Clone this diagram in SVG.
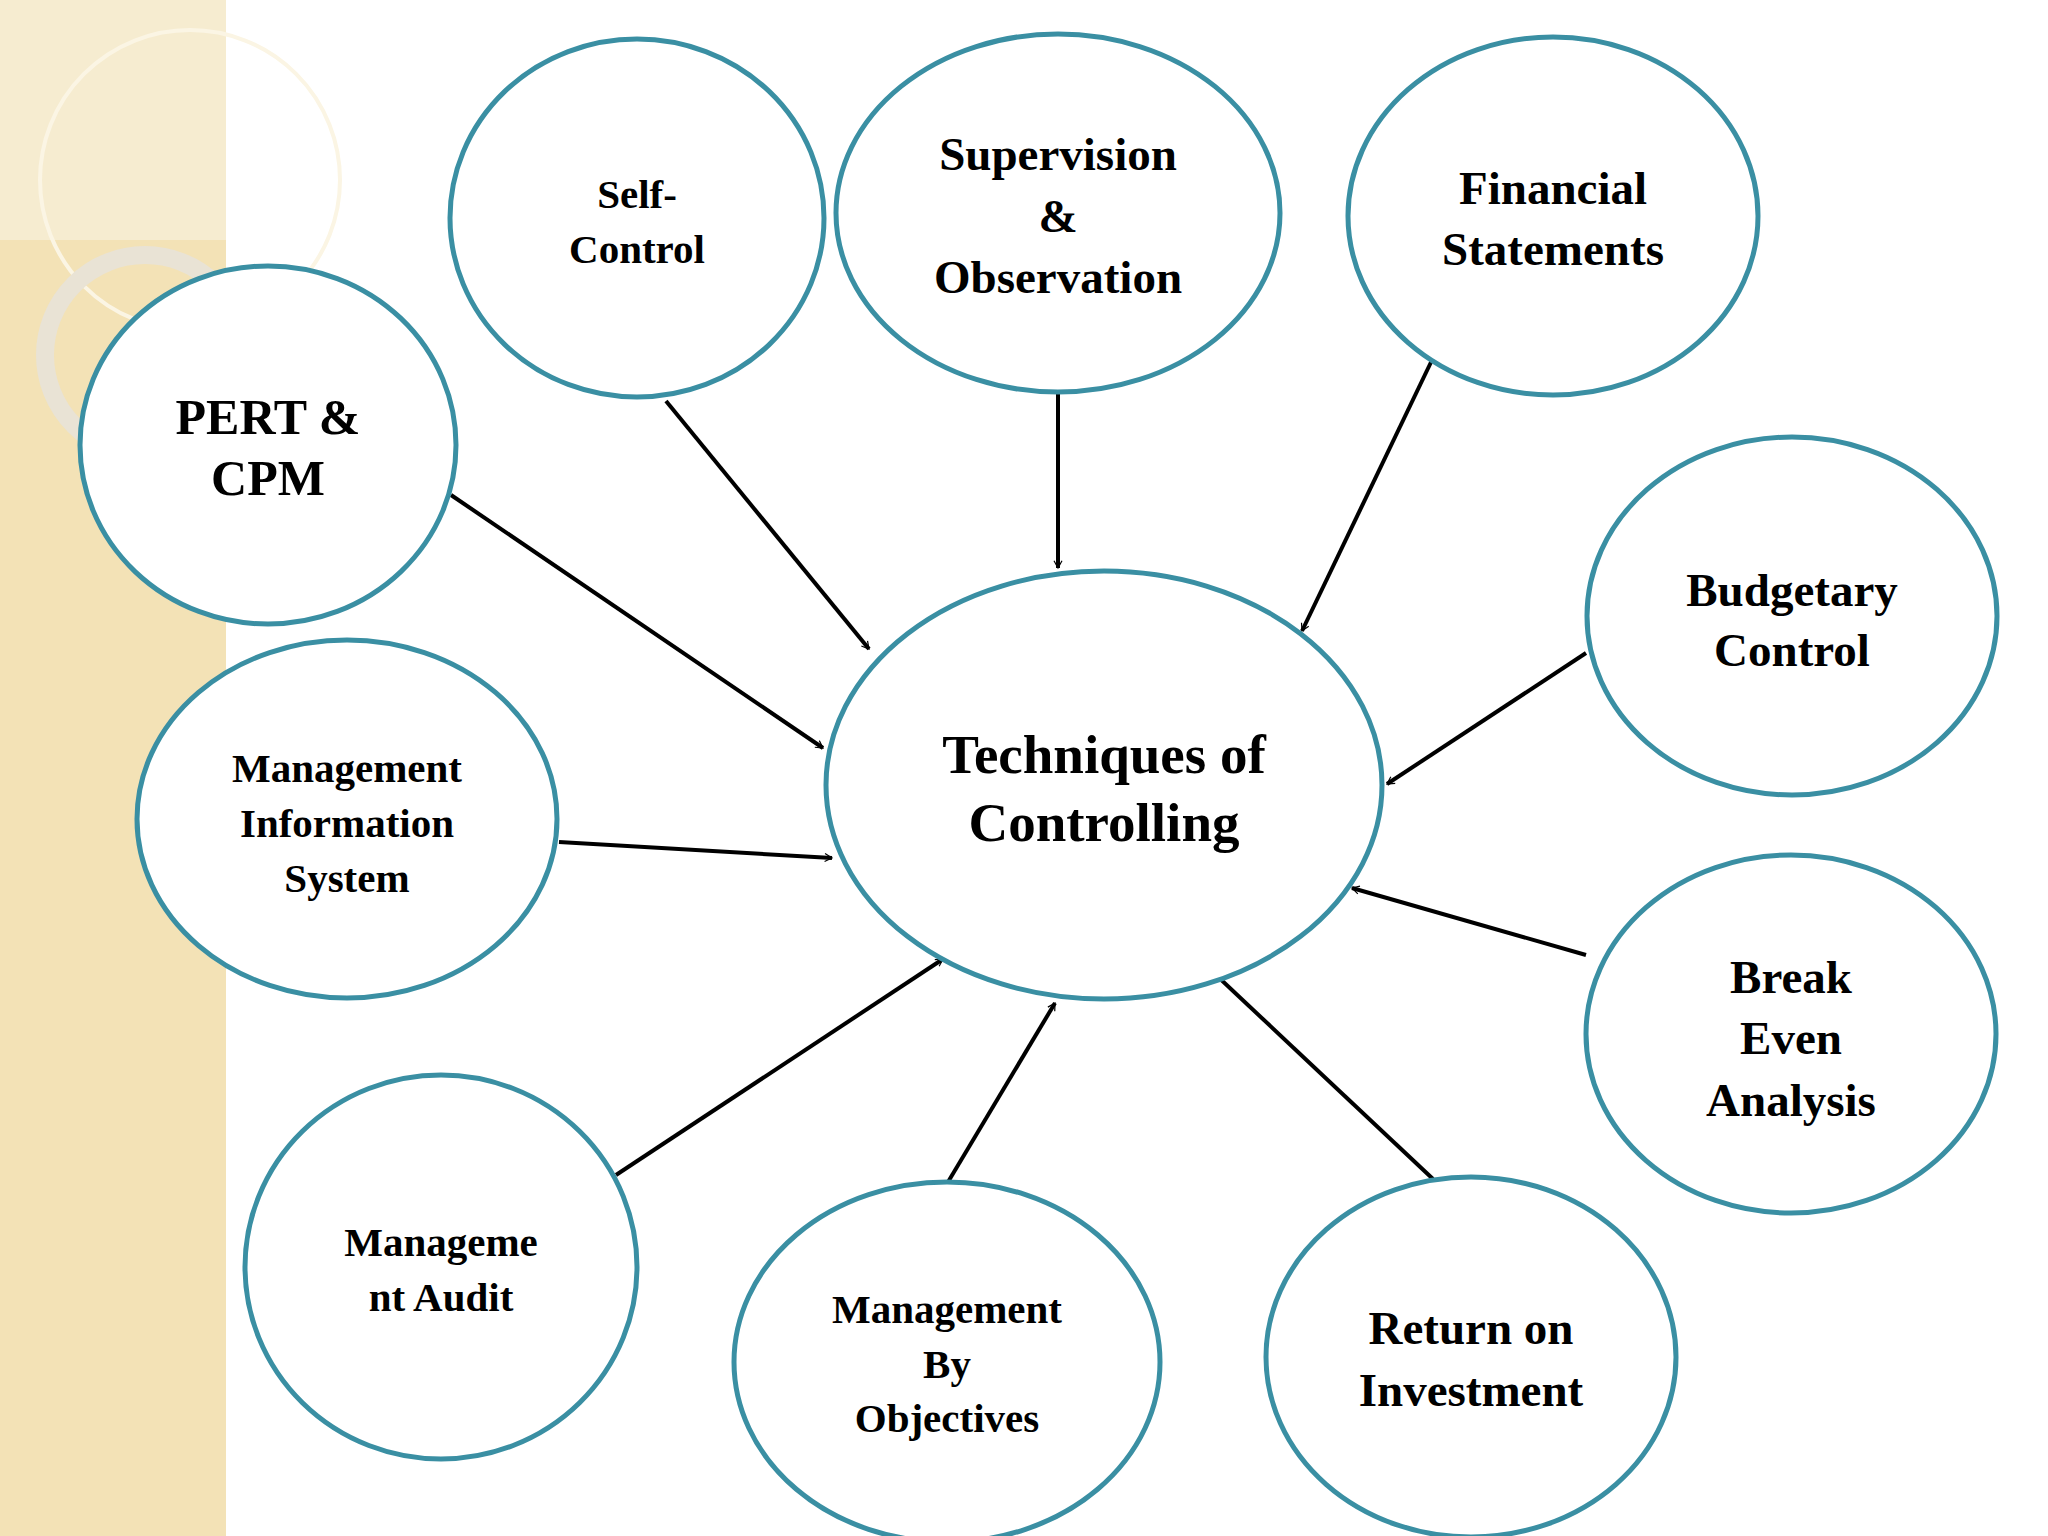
<svg xmlns="http://www.w3.org/2000/svg" width="2048" height="1536" viewBox="0 0 2048 1536">
<style>
.n{fill:#fff;stroke:#3a8fa3;stroke-width:5}
.t{font-family:"Liberation Serif",serif;font-weight:bold;text-anchor:middle;dominant-baseline:central;fill:#000}
.c line{stroke:#000;stroke-width:4}
</style>
<defs>
<marker id="a" viewBox="0 0 20 20" refX="18" refY="10" markerWidth="8" markerHeight="8" markerUnits="userSpaceOnUse" orient="auto" style="overflow:visible">
<path d="M0,0 L18,10 L0,20" fill="none" stroke="#000" stroke-width="3"/>
</marker>
</defs>
<rect width="2048" height="1536" fill="#fff"/>
<g id="sidebar">
<rect x="0" y="0" width="226" height="1536" fill="#f3e2b6"/>
<rect x="0" y="0" width="226" height="240" fill="#f6ecd0"/>
<circle cx="190" cy="180" r="150" fill="none" stroke="#fbf5e4" stroke-width="4"/>
<circle cx="145" cy="355" r="100" fill="none" stroke="#e9e3d5" stroke-width="18"/>
</g>
<g class="c" id="connectors">
<line x1="451" y1="495" x2="823" y2="748" marker-end="url(#a)"/>
<line x1="666" y1="401" x2="869" y2="649" marker-end="url(#a)"/>
<line x1="1058" y1="393" x2="1058" y2="568" marker-end="url(#a)"/>
<line x1="1433" y1="358" x2="1302" y2="631" marker-end="url(#a)"/>
<line x1="1586" y1="653" x2="1387" y2="784" marker-end="url(#a)"/>
<line x1="559" y1="842" x2="832" y2="858" marker-end="url(#a)"/>
<line x1="1586" y1="955" x2="1352" y2="888" marker-end="url(#a)"/>
<line x1="616" y1="1175" x2="943" y2="959" marker-end="url(#a)"/>
<line x1="948" y1="1182" x2="1055" y2="1003" marker-end="url(#a)"/>
<line x1="1433" y1="1179" x2="1215" y2="974" marker-end="url(#a)"/>
</g>
<g id="center"><ellipse class="n" cx="1104" cy="785" rx="278" ry="214"/>
<text class="t" font-size="55"><tspan x="1104" y="754">Techniques of</tspan><tspan x="1104" y="822">Controlling</tspan></text></g>
<g id="self"><ellipse class="n" cx="637" cy="218" rx="187" ry="179"/>
<text class="t" font-size="41"><tspan x="637" y="194">Self-</tspan><tspan x="637" y="249">Control</tspan></text></g>
<g id="supervision"><ellipse class="n" cx="1058" cy="213" rx="222" ry="179"/>
<text class="t" font-size="47"><tspan x="1058" y="154">Supervision</tspan><tspan x="1058" y="216">&amp;</tspan><tspan x="1058" y="277">Observation</tspan></text></g>
<g id="financial"><ellipse class="n" cx="1553" cy="216" rx="205" ry="179"/>
<text class="t" font-size="47"><tspan x="1553" y="188">Financial</tspan><tspan x="1553" y="249">Statements</tspan></text></g>
<g id="pert"><ellipse class="n" cx="268" cy="445" rx="188" ry="179"/>
<text class="t" font-size="50"><tspan x="268" y="417">PERT &amp;</tspan><tspan x="268" y="478">CPM</tspan></text></g>
<g id="budgetary"><ellipse class="n" cx="1792" cy="616" rx="205" ry="179"/>
<text class="t" font-size="47"><tspan x="1792" y="590">Budgetary</tspan><tspan x="1792" y="650">Control</tspan></text></g>
<g id="mis"><ellipse class="n" cx="347" cy="819" rx="210" ry="179"/>
<text class="t" font-size="41"><tspan x="347" y="768">Management</tspan><tspan x="347" y="823">Information</tspan><tspan x="347" y="878">System</tspan></text></g>
<g id="breakeven"><ellipse class="n" cx="1791" cy="1034" rx="205" ry="179"/>
<text class="t" font-size="47"><tspan x="1791" y="977">Break</tspan><tspan x="1791" y="1038">Even</tspan><tspan x="1791" y="1100">Analysis</tspan></text></g>
<g id="audit"><ellipse class="n" cx="441" cy="1267" rx="196" ry="192"/>
<text class="t" font-size="41"><tspan x="441" y="1242">Manageme</tspan><tspan x="441" y="1297">nt Audit</tspan></text></g>
<g id="mbo"><ellipse class="n" cx="947" cy="1362" rx="213" ry="180"/>
<text class="t" font-size="41"><tspan x="947" y="1309">Management</tspan><tspan x="947" y="1364">By</tspan><tspan x="947" y="1418">Objectives</tspan></text></g>
<g id="roi"><ellipse class="n" cx="1471" cy="1357" rx="205" ry="180"/>
<text class="t" font-size="47"><tspan x="1471" y="1328">Return on</tspan><tspan x="1471" y="1390">Investment</tspan></text></g>
</svg>
